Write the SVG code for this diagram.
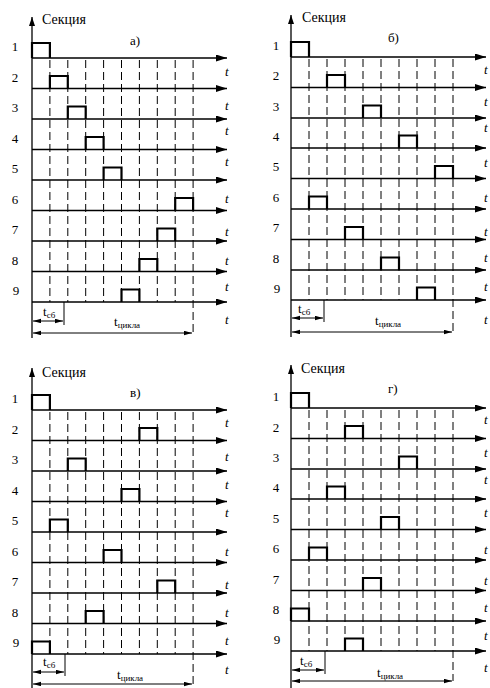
<svg xmlns="http://www.w3.org/2000/svg" width="490" height="688" viewBox="0 0 490 688" font-family="'Liberation Serif', 'Times New Roman', serif">
<style>
.ax{stroke:#000;stroke-width:1.3;fill:none}
.yax{stroke:#000;stroke-width:1.3;fill:none}
.dash{stroke:#000;stroke-width:1;stroke-dasharray:8,4;fill:none}
.pulse{stroke:#000;stroke-width:2.2;fill:none;stroke-linejoin:miter}
.dim{stroke:#000;stroke-width:1;fill:none}
.num,.ttl,.lbl,.t,.tm{font-family:'Liberation Serif','Times New Roman',serif;fill:#000}
.num{font-size:13px;text-anchor:middle}
.ttl{font-size:14px}
.lbl{font-size:13px}
.t{font-size:13px;font-style:italic}
.tm{font-size:13px}
.sub{font-size:9px}
</style>
<defs>
<marker id="ah" markerUnits="userSpaceOnUse" markerWidth="11" markerHeight="7" refX="11" refY="3.5" orient="auto"><path d="M0,0 L11,3.5 L0,7 z" fill="#000"/></marker>
<marker id="ya" markerUnits="userSpaceOnUse" markerWidth="9" markerHeight="6" refX="9" refY="3" orient="auto"><path d="M0,0 L9,3 L0,6 z" fill="#000"/></marker>
<marker id="da" markerUnits="userSpaceOnUse" markerWidth="8" markerHeight="5" refX="8" refY="2.25" orient="auto-start-reverse"><path d="M0,0 L8,2.25 L0,4.5 z" fill="#000"/></marker>
</defs>

<!-- Panel a -->
<g id="panel-a">
<line class="yax" x1="32" y1="338" x2="32" y2="17" marker-end="url(#ya)"/>
<text class="ttl" x="42" y="24">Секция</text>
<text class="lbl" x="130" y="45">а)</text>
<g id="a-connectors">
<line class="ax" x1="32" y1="58" x2="227" y2="58" marker-end="url(#ah)"/>
<line class="ax" x1="32" y1="88.5" x2="227" y2="88.5" marker-end="url(#ah)"/>
<line class="ax" x1="32" y1="119" x2="227" y2="119" marker-end="url(#ah)"/>
<line class="ax" x1="32" y1="149.5" x2="227" y2="149.5" marker-end="url(#ah)"/>
<line class="ax" x1="32" y1="180" x2="227" y2="180" marker-end="url(#ah)"/>
<line class="ax" x1="32" y1="210.5" x2="227" y2="210.5" marker-end="url(#ah)"/>
<line class="ax" x1="32" y1="241" x2="227" y2="241" marker-end="url(#ah)"/>
<line class="ax" x1="32" y1="271.5" x2="227" y2="271.5" marker-end="url(#ah)"/>
<line class="ax" x1="32" y1="302" x2="227" y2="302" marker-end="url(#ah)"/>
<line class="dash" x1="49.9" y1="60" x2="49.9" y2="302"/>
<line class="dash" x1="67.8" y1="60" x2="67.8" y2="302"/>
<line class="dash" x1="85.7" y1="60" x2="85.7" y2="302"/>
<line class="dash" x1="103.6" y1="60" x2="103.6" y2="302"/>
<line class="dash" x1="121.5" y1="60" x2="121.5" y2="302"/>
<line class="dash" x1="139.4" y1="60" x2="139.4" y2="302"/>
<line class="dash" x1="157.3" y1="60" x2="157.3" y2="302"/>
<line class="dash" x1="175.2" y1="60" x2="175.2" y2="302"/>
<line class="dash" x1="193.1" y1="60" x2="193.1" y2="333"/>
<line class="dim" x1="64" y1="302" x2="64" y2="325"/>
<line class="dim" x1="33" y1="321" x2="63" y2="321" marker-start="url(#da)" marker-end="url(#da)"/>
<line class="dim" x1="33" y1="333" x2="192" y2="333" marker-start="url(#da)" marker-end="url(#da)"/>
</g>
<path class="pulse" d="M32,58 V43 H49.9 V58"/>
<path class="pulse" d="M49.9,88.5 V76 H67.8 V88.5"/>
<path class="pulse" d="M67.8,119 V106.5 H85.7 V119"/>
<path class="pulse" d="M85.7,149.5 V137 H103.6 V149.5"/>
<path class="pulse" d="M103.6,180 V167.5 H121.5 V180"/>
<path class="pulse" d="M175.2,210.5 V198 H193.1 V210.5"/>
<path class="pulse" d="M157.3,241 V228.5 H175.2 V241"/>
<path class="pulse" d="M139.4,271.5 V259 H157.3 V271.5"/>
<path class="pulse" d="M121.5,302 V289.5 H139.4 V302"/>
<text class="num" x="15" y="51">1</text>
<text class="num" x="15" y="82">2</text>
<text class="num" x="15" y="112">3</text>
<text class="num" x="15" y="143">4</text>
<text class="num" x="15" y="173">5</text>
<text class="num" x="15" y="204">6</text>
<text class="num" x="15" y="234">7</text>
<text class="num" x="15" y="265">8</text>
<text class="num" x="16" y="295">9</text>
<text class="t" x="225" y="76">t</text>
<text class="t" x="225" y="110">t</text>
<text class="t" x="225" y="135">t</text>
<text class="t" x="225" y="166">t</text>
<text class="t" x="225" y="203">t</text>
<text class="t" x="225" y="236">t</text>
<text class="t" x="225" y="265">t</text>
<text class="t" x="225" y="291">t</text>
<text class="t" x="225" y="324">t</text>
<text class="tm" x="43" y="316">t<tspan class="sub" dy="2">сб</tspan></text>
<text class="tm" x="114" y="326">t<tspan class="sub" dy="2">цикла</tspan></text>
</g>

<!-- Panel b -->
<g id="panel-b">
<line class="yax" x1="291" y1="337" x2="291" y2="15" marker-end="url(#ya)"/>
<text class="ttl" x="302" y="22">Секция</text>
<text class="lbl" x="388" y="42">б)</text>
<g id="b-connectors">
<line class="ax" x1="291" y1="57" x2="486" y2="57" marker-end="url(#ah)"/>
<line class="ax" x1="291" y1="87.5" x2="486" y2="87.5" marker-end="url(#ah)"/>
<line class="ax" x1="291" y1="118" x2="486" y2="118" marker-end="url(#ah)"/>
<line class="ax" x1="291" y1="148" x2="486" y2="148" marker-end="url(#ah)"/>
<line class="ax" x1="291" y1="178.5" x2="486" y2="178.5" marker-end="url(#ah)"/>
<line class="ax" x1="291" y1="209" x2="486" y2="209" marker-end="url(#ah)"/>
<line class="ax" x1="291" y1="239.5" x2="486" y2="239.5" marker-end="url(#ah)"/>
<line class="ax" x1="291" y1="270" x2="486" y2="270" marker-end="url(#ah)"/>
<line class="ax" x1="291" y1="300" x2="486" y2="300" marker-end="url(#ah)"/>
<line class="dash" x1="309" y1="59" x2="309" y2="300"/>
<line class="dash" x1="327" y1="59" x2="327" y2="300"/>
<line class="dash" x1="345" y1="59" x2="345" y2="300"/>
<line class="dash" x1="363" y1="59" x2="363" y2="300"/>
<line class="dash" x1="381" y1="59" x2="381" y2="300"/>
<line class="dash" x1="399" y1="59" x2="399" y2="300"/>
<line class="dash" x1="417" y1="59" x2="417" y2="300"/>
<line class="dash" x1="435" y1="59" x2="435" y2="300"/>
<line class="dash" x1="453" y1="59" x2="453" y2="332"/>
<line class="dim" x1="324" y1="300" x2="324" y2="322"/>
<line class="dim" x1="292" y1="318" x2="323" y2="318" marker-start="url(#da)" marker-end="url(#da)"/>
<line class="dim" x1="292" y1="332" x2="452" y2="332" marker-start="url(#da)" marker-end="url(#da)"/>
</g>
<path class="pulse" d="M291,57 V42 H309 V57"/>
<path class="pulse" d="M327,87.5 V75 H345 V87.5"/>
<path class="pulse" d="M363,118 V105.5 H381 V118"/>
<path class="pulse" d="M399,148 V135.5 H417 V148"/>
<path class="pulse" d="M435,178.5 V166 H453 V178.5"/>
<path class="pulse" d="M309,209 V196.5 H327 V209"/>
<path class="pulse" d="M345,239.5 V227 H363 V239.5"/>
<path class="pulse" d="M381,270 V257.5 H399 V270"/>
<path class="pulse" d="M417,300 V287.5 H435 V300"/>
<text class="num" x="276" y="50">1</text>
<text class="num" x="276" y="80">2</text>
<text class="num" x="276" y="111">3</text>
<text class="num" x="276" y="141">4</text>
<text class="num" x="276" y="171">5</text>
<text class="num" x="276" y="202">6</text>
<text class="num" x="276" y="232">7</text>
<text class="num" x="276" y="263">8</text>
<text class="num" x="277" y="293">9</text>
<text class="t" x="484" y="74">t</text>
<text class="t" x="484" y="106">t</text>
<text class="t" x="484" y="132">t</text>
<text class="t" x="484" y="167">t</text>
<text class="t" x="484" y="202">t</text>
<text class="t" x="484" y="236">t</text>
<text class="t" x="484" y="262">t</text>
<text class="t" x="484" y="291">t</text>
<text class="t" x="484" y="324">t</text>
<text class="tm" x="298" y="313">t<tspan class="sub" dy="2">сб</tspan></text>
<text class="tm" x="375" y="325">t<tspan class="sub" dy="2">цикла</tspan></text>
</g>

<!-- Panel v -->
<g id="panel-v">
<line class="yax" x1="32" y1="688" x2="32" y2="368" marker-end="url(#ya)"/>
<text class="ttl" x="42" y="377">Секция</text>
<text class="lbl" x="130" y="397">в)</text>
<g id="v-connectors">
<line class="ax" x1="32" y1="410" x2="227" y2="410" marker-end="url(#ah)"/>
<line class="ax" x1="32" y1="440.5" x2="227" y2="440.5" marker-end="url(#ah)"/>
<line class="ax" x1="32" y1="471" x2="227" y2="471" marker-end="url(#ah)"/>
<line class="ax" x1="32" y1="501.5" x2="227" y2="501.5" marker-end="url(#ah)"/>
<line class="ax" x1="32" y1="532" x2="227" y2="532" marker-end="url(#ah)"/>
<line class="ax" x1="32" y1="562.5" x2="227" y2="562.5" marker-end="url(#ah)"/>
<line class="ax" x1="32" y1="593" x2="227" y2="593" marker-end="url(#ah)"/>
<line class="ax" x1="32" y1="623.5" x2="227" y2="623.5" marker-end="url(#ah)"/>
<line class="ax" x1="32" y1="654" x2="227" y2="654" marker-end="url(#ah)"/>
<line class="dash" x1="49.9" y1="412" x2="49.9" y2="654"/>
<line class="dash" x1="67.8" y1="412" x2="67.8" y2="654"/>
<line class="dash" x1="85.7" y1="412" x2="85.7" y2="654"/>
<line class="dash" x1="103.6" y1="412" x2="103.6" y2="654"/>
<line class="dash" x1="121.5" y1="412" x2="121.5" y2="654"/>
<line class="dash" x1="139.4" y1="412" x2="139.4" y2="654"/>
<line class="dash" x1="157.3" y1="412" x2="157.3" y2="654"/>
<line class="dash" x1="175.2" y1="412" x2="175.2" y2="654"/>
<line class="dash" x1="193.1" y1="412" x2="193.1" y2="684"/>
<line class="dim" x1="65" y1="654" x2="65" y2="676"/>
<line class="dim" x1="33" y1="672" x2="64" y2="672" marker-start="url(#da)" marker-end="url(#da)"/>
<line class="dim" x1="33" y1="684" x2="192" y2="684" marker-start="url(#da)" marker-end="url(#da)"/>
</g>
<path class="pulse" d="M32,410 V395 H49.9 V410"/>
<path class="pulse" d="M139.4,440.5 V428 H157.3 V440.5"/>
<path class="pulse" d="M67.8,471 V458.5 H85.7 V471"/>
<path class="pulse" d="M121.5,501.5 V489 H139.4 V501.5"/>
<path class="pulse" d="M49.9,532 V519.5 H67.8 V532"/>
<path class="pulse" d="M103.6,562.5 V550 H121.5 V562.5"/>
<path class="pulse" d="M157.3,593 V580.5 H175.2 V593"/>
<path class="pulse" d="M85.7,623.5 V611 H103.6 V623.5"/>
<path class="pulse" d="M32,654 V641.5 H49.9 V654"/>
<text class="num" x="15" y="403">1</text>
<text class="num" x="15" y="434">2</text>
<text class="num" x="15" y="464">3</text>
<text class="num" x="15" y="495">4</text>
<text class="num" x="15" y="525">5</text>
<text class="num" x="15" y="556">6</text>
<text class="num" x="15" y="586">7</text>
<text class="num" x="15" y="617">8</text>
<text class="num" x="16" y="647">9</text>
<text class="t" x="225" y="427">t</text>
<text class="t" x="225" y="461">t</text>
<text class="t" x="225" y="489">t</text>
<text class="t" x="225" y="517">t</text>
<text class="t" x="225" y="556">t</text>
<text class="t" x="225" y="589">t</text>
<text class="t" x="225" y="617">t</text>
<text class="t" x="225" y="645">t</text>
<text class="t" x="225" y="674">t</text>
<text class="tm" x="43" y="666">t<tspan class="sub" dy="2">сб</tspan></text>
<text class="tm" x="117" y="679">t<tspan class="sub" dy="2">цикла</tspan></text>
</g>

<!-- Panel g -->
<g id="panel-g">
<line class="yax" x1="291" y1="688" x2="291" y2="365" marker-end="url(#ya)"/>
<text class="ttl" x="301" y="373">Секция</text>
<text class="lbl" x="388" y="393">г)</text>
<g id="g-connectors">
<line class="ax" x1="291" y1="408" x2="486" y2="408" marker-end="url(#ah)"/>
<line class="ax" x1="291" y1="438.5" x2="486" y2="438.5" marker-end="url(#ah)"/>
<line class="ax" x1="291" y1="469" x2="486" y2="469" marker-end="url(#ah)"/>
<line class="ax" x1="291" y1="499" x2="486" y2="499" marker-end="url(#ah)"/>
<line class="ax" x1="291" y1="529.5" x2="486" y2="529.5" marker-end="url(#ah)"/>
<line class="ax" x1="291" y1="560" x2="486" y2="560" marker-end="url(#ah)"/>
<line class="ax" x1="291" y1="590.5" x2="486" y2="590.5" marker-end="url(#ah)"/>
<line class="ax" x1="291" y1="621" x2="486" y2="621" marker-end="url(#ah)"/>
<line class="ax" x1="291" y1="651" x2="486" y2="651" marker-end="url(#ah)"/>
<line class="dash" x1="309" y1="410" x2="309" y2="651"/>
<line class="dash" x1="327" y1="410" x2="327" y2="651"/>
<line class="dash" x1="345" y1="410" x2="345" y2="651"/>
<line class="dash" x1="363" y1="410" x2="363" y2="651"/>
<line class="dash" x1="381" y1="410" x2="381" y2="651"/>
<line class="dash" x1="399" y1="410" x2="399" y2="651"/>
<line class="dash" x1="417" y1="410" x2="417" y2="651"/>
<line class="dash" x1="435" y1="410" x2="435" y2="651"/>
<line class="dash" x1="453" y1="410" x2="453" y2="681"/>
<line class="dim" x1="325" y1="651" x2="325" y2="674"/>
<line class="dim" x1="292" y1="670" x2="324" y2="670" marker-start="url(#da)" marker-end="url(#da)"/>
<line class="dim" x1="292" y1="681" x2="452" y2="681" marker-start="url(#da)" marker-end="url(#da)"/>
</g>
<path class="pulse" d="M291,408 V393 H309 V408"/>
<path class="pulse" d="M345,438.5 V426 H363 V438.5"/>
<path class="pulse" d="M399,469 V456.5 H417 V469"/>
<path class="pulse" d="M327,499 V486.5 H345 V499"/>
<path class="pulse" d="M381,529.5 V517 H399 V529.5"/>
<path class="pulse" d="M309,560 V547.5 H327 V560"/>
<path class="pulse" d="M363,590.5 V578 H381 V590.5"/>
<path class="pulse" d="M291,621 V608.5 H309 V621"/>
<path class="pulse" d="M345,651 V638.5 H363 V651"/>
<text class="num" x="276" y="401">1</text>
<text class="num" x="276" y="432">2</text>
<text class="num" x="276" y="462">3</text>
<text class="num" x="276" y="492">4</text>
<text class="num" x="276" y="523">5</text>
<text class="num" x="276" y="553">6</text>
<text class="num" x="276" y="584">7</text>
<text class="num" x="276" y="614">8</text>
<text class="num" x="277" y="644">9</text>
<text class="t" x="484" y="424">t</text>
<text class="t" x="484" y="457">t</text>
<text class="t" x="484" y="484">t</text>
<text class="t" x="484" y="517">t</text>
<text class="t" x="484" y="554">t</text>
<text class="t" x="484" y="585">t</text>
<text class="t" x="484" y="612">t</text>
<text class="t" x="484" y="640">t</text>
<text class="t" x="484" y="672">t</text>
<text class="tm" x="300" y="665">t<tspan class="sub" dy="2">сб</tspan></text>
<text class="tm" x="377" y="677">t<tspan class="sub" dy="2">цикла</tspan></text>
</g>
</svg>
